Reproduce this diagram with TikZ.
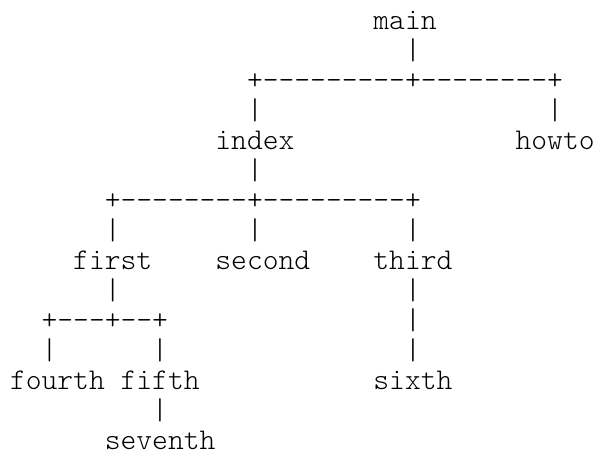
\documentclass[tikz,border=0pt]{standalone}
\usepackage{fontspec}
\setmonofont{lmmonolt10-regular}[Extension=.otf]
\begin{document}
\begin{tikzpicture}[x=1pt,y=-1pt,
  cell/.style={anchor=base west,inner sep=0pt,outer sep=0pt,text depth=0pt,
    font=\ttfamily\fontsize{30.1}{30}\selectfont,text=black}]
\useasboundingbox[fill=white] (0,0) rectangle (600,455);
\newcommand\cw{15.8}
\newcommand\rowpitch{30.0}
\newcommand\cellat[4]{\node[cell] (#1) at ({10+#2*\cw},{29.5+#3*\rowpitch}) {#4};}
% row 0-1
\cellat{main}{23}{0}{main}
\cellat{v01}{25}{1}{|}
% row 2-3
\cellat{h2}{15}{2}{+---------+--------+}
\cellat{v31}{15}{3}{|}
\cellat{v32}{34}{3}{|}
% row 4
\cellat{index}{13}{4}{index}
\cellat{howto}{32}{4}{howto}
% row 5-7
\cellat{v51}{15}{5}{|}
\cellat{h6}{6}{6}{+--------+---------+}
\cellat{v71}{6}{7}{|}
\cellat{v72}{15}{7}{|}
\cellat{v73}{25}{7}{|}
% row 8
\cellat{first}{4}{8}{first}
\cellat{second}{13}{8}{second}
\cellat{third}{23}{8}{third}
% row 9-11
\cellat{v91}{6}{9}{|}
\cellat{v92}{25}{9}{|}
\cellat{h10}{2}{10}{+---+--+}
\cellat{v102}{25}{10}{|}
\cellat{v111}{2}{11}{|}
\cellat{v112}{9}{11}{|}
\cellat{v113}{25}{11}{|}
% row 12
\cellat{fourth}{0}{12}{fourth}
\cellat{fifth}{7}{12}{fifth}
\cellat{sixth}{23}{12}{sixth}
% row 13-14
\cellat{v131}{9}{13}{|}
\cellat{seventh}{6}{14}{seventh}
\end{tikzpicture}
\end{document}
